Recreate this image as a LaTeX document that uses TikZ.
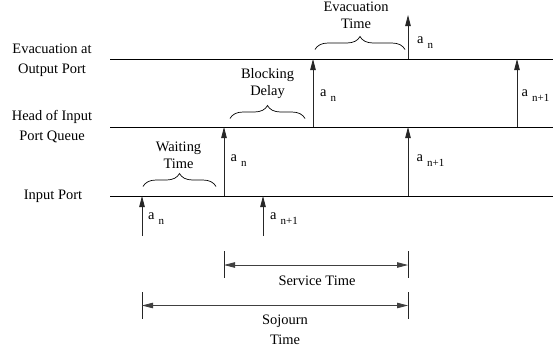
\documentclass[tikz,border=0pt]{standalone}
\usepackage{fontspec}
\setmainfont{Liberation Serif}
\usetikzlibrary{arrows.meta, decorations.pathreplacing}

% label "a" with a lowered index
\newcommand{\asub}[1]{a\kern4bp\raisebox{-5bp}{\fontsize{11}{11}\selectfont #1}}

\begin{document}
\begin{tikzpicture}[
    x=1bp, y=-1bp,
    >={Triangle[length=11bp,width=5.5bp]},
    every node/.style={font=\fontsize{14.5}{17}\selectfont, inner sep=0pt},
    wide/.style={font=\fontsize{14.5}{20}\selectfont},
    level/.style={black, line width=1bp},
    event/.style={black!85, ->, line width=0.8bp},
    span/.style={black!75, <->, line width=0.8bp},
    tick/.style={black!85, line width=0.8bp},
    curly/.style={decorate, decoration={brace, amplitude=13bp}, line width=0.7bp},
    lab/.style={anchor=west}
]
\useasboundingbox (0,0) rectangle (553,352);

% -------- Y levels --------
\def\yout{59}
\def\yhead{127}
\def\yin{196}
\def\ylow{236}
\def\ytop{15}

% -------- X positions --------
\def\xL{110}
\def\xR{553}
\def\xA{142}   % a_n arrives
\def\xB{224}   % a_n at head
\def\xC{263}   % a_n+1 arrives
\def\xD{313}   % a_n evacuated
\def\xE{408}   % a_n leaves / a_n+1 at head
\def\xF{517}   % a_n+1 evacuated

% -------- Left labels --------
\node[wide, align=center] (lout) at (52,60) {Evacuation at\\Output Port};
\node[wide, align=center] (lhead) at (52,127) {Head of Input\\Port Queue};
\node (lin) at (53,196) {Input Port};

% -------- Time lines --------
\coordinate (outL) at (\xL,\yout);   \coordinate (outR) at (\xR,\yout);
\coordinate (headL) at (\xL,\yhead); \coordinate (headR) at (\xR,\yhead);
\coordinate (inL) at (\xL,\yin);     \coordinate (inR) at (\xR,\yin);

\draw[level] (outL) -- (outR);
\draw[level] (headL) -- (headR);
\draw[level] (inL) -- (inR);

% -------- Events --------
\foreach \x/\n in {A/\xA,C/\xC} {
    \coordinate (low\x) at (\n,\ylow);
    \coordinate (in\x) at (\n,\yin);
}
\foreach \x/\n in {B/\xB,E/\xE} {
    \coordinate (in\x) at (\n,\yin);
    \coordinate (head\x) at (\n,\yhead);
}
\foreach \x/\n in {D/\xD,F/\xF} {
    \coordinate (head\x) at (\n,\yhead);
    \coordinate (out\x) at (\n,\yout);
}
\coordinate (outE) at (\xE,\yout);
\coordinate (topE) at (\xE,\ytop);

% arrivals
\draw[event] (lowA) -- (inA);
\draw[event] (lowC) -- (inC);
% to head of queue
\draw[event] (inB) -- (headB);
\draw[event] (inE) -- (headE);
% to output port
\draw[event] (headD) -- (outD);
\draw[event] (headF) -- (outF);
% evacuation
\draw[event] (outE) -- (topE);

% -------- Event labels --------
\node[lab] (la1) at (148,219) {\asub{n}};
\node[lab] (la2) at (270,219) {\asub{n+1}};
\node[lab] (lb1) at (230.5,161) {\asub{n}};
\node[lab] (lb2) at (416.5,161) {\asub{n+1}};
\node[lab] (lc1) at (320,96) {\asub{n}};
\node[lab] (lc2) at (521.5,96) {\asub{n+1}};
\node[lab] (ld1) at (417,43) {\asub{n}};

% -------- Braces --------
\coordinate (wA) at (143,186.5); \coordinate (wB) at (216,186.5);
\coordinate (bA) at (230,118.5); \coordinate (bB) at (305,118.5);
\coordinate (eA) at (315,49.5);  \coordinate (eB) at (405,49.5);

\draw[curly] (wA) -- (wB);
\draw[curly] (bA) -- (bB);
\draw[curly] (eA) -- (eB);

\node[align=center] (wait) at (178.5,155) {Waiting\\Time};
\node[align=center] (block) at (267.5,84) {Blocking\\Delay};
\node[align=center] (evac) at (356,15.5) {Evacuation\\Time};

% -------- Service / sojourn spans --------
\coordinate (sB1) at (\xB,251); \coordinate (sB2) at (\xB,278);
\coordinate (sE1) at (\xE,251); \coordinate (sE2) at (\xE,278);
\coordinate (jA1) at (\xA,292); \coordinate (jA2) at (\xA,319);
\coordinate (jE1) at (\xE,292); \coordinate (jE2) at (\xE,319);
\coordinate (sL) at (\xB,265);   \coordinate (sR) at (\xE,265);
\coordinate (jL) at (\xA,305.5); \coordinate (jR) at (\xE,305.5);

\draw[tick] (sB1) -- (sB2);
\draw[tick] (sE1) -- (sE2);
\draw[tick] (jA1) -- (jA2);
\draw[tick] (jE1) -- (jE2);
\draw[span] (sL) -- (sR);
\draw[span] (jL) -- (jR);

\node (serv) at (317,281) {Service Time};
\node[wide, align=center] (soj) at (285,330) {Sojourn\\Time};

\end{tikzpicture}
\end{document}
